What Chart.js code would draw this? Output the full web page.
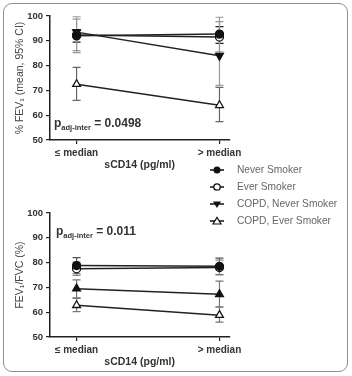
<!DOCTYPE html>
<html>
<head>
<meta charset="utf-8">
<script src="https://cdn.jsdelivr.net/npm/chart.js@4.4.1/dist/chart.umd.min.js"></script>
<style>
  body { margin: 0; width: 352px; height: 376px; background: #fff; position: relative; overflow: hidden;
         font-family: "Liberation Sans", Arial, sans-serif; }
  #frame { position: absolute; left: 3px; top: 3px; width: 343px; height: 367px;
           border: 1.5px solid #8f8f8f; border-radius: 9px; }
  .box { position: absolute; left: 0; width: 245px; height: 175px; }
  #legend { position: absolute; left: 209px; top: 161px; }
  #legend div { height: 17px; display: flex; align-items: center; font-size: 10.2px; color: #666; }
  #legend svg { margin-right: 12px; }
</style>
</head>
<body>
<div id="frame"></div>
<div class="box" style="top:0"><canvas id="fev1"></canvas></div>
<div class="box" style="top:197px"><canvas id="ratio"></canvas></div>
<div id="legend"></div>
<script>
// categories on the x axis
const categories = ['\u2264 median', '> median'];
const seriesNames = ['Never Smoker', 'Ever Smoker', 'COPD, Never Smoker', 'COPD, Ever Smoker'];

// % FEV1 (mean, 95% CI)
const fev1Never = [92.0, 92.7];
const fev1NeverCI = [[89.5, 94.5], [89.0, 95.7]];
const fev1Ever = [92.3, 91.5];
const fev1EverCI = [[86.0, 98.7], [85.5, 97.7]];
const fev1CopdNever = [93.5, 84.0];
const fev1CopdNeverCI = [[85.2, 99.7], [72.0, 99.5]];
const fev1CopdEver = [72.5, 64.0];
const fev1CopdEverCI = [[66.0, 79.3], [57.4, 71.2]];

// FEV1/FVC (%)
const ratioNever = [78.8, 78.5];
const ratioNeverCI = [[75.5, 82.0], [75.2, 81.8]];
const ratioEver = [77.5, 78.0];
const ratioEverCI = [[74.8, 80.2], [75.0, 81.0]];
const ratioCopdNever = [69.5, 67.2];
const ratioCopdNeverCI = [[65.8, 73.0], [62.2, 72.5]];
const ratioCopdEver = [62.8, 58.8];
const ratioCopdEverCI = [[60.2, 65.6], [56.0, 62.0]];

const yTicks = [50, 60, 70, 80, 90, 100];

const errorBars = {
  id: 'errorBars',
  beforeDatasetsDraw(chart) {
    const { ctx, scales: { x, y } } = chart;
    chart.data.datasets.forEach(ds => {
      ctx.save();
      ctx.strokeStyle = ds.ciColor;
      ctx.lineWidth = 1.2;
      ds.ci.forEach((r, i) => {
        const px = x.getPixelForValue(i);
        const lo = y.getPixelForValue(r[0]);
        const hi = y.getPixelForValue(r[1]);
        ctx.beginPath();
        ctx.moveTo(px, lo); ctx.lineTo(px, hi);
        ctx.moveTo(px - 4, lo); ctx.lineTo(px + 4, lo);
        ctx.moveTo(px - 4, hi); ctx.lineTo(px + 4, hi);
        ctx.stroke();
      });
      ctx.restore();
    });
  }
};

// p value note with subscript
const pNote = {
  id: 'pNote',
  afterDraw(chart, args, opts) {
    const ctx = chart.ctx;
    ctx.save();
    ctx.fillStyle = '#333';
    ctx.textBaseline = 'alphabetic';
    let x = opts.x;
    ctx.font = 'bold 12px "Liberation Sans", Arial';
    ctx.fillText('p', x, opts.y);
    x += ctx.measureText('p').width;
    ctx.font = 'bold 7.5px "Liberation Sans", Arial';
    ctx.fillText('adj-inter', x, opts.y + 3);
    x += ctx.measureText('adj-inter').width;
    ctx.font = 'bold 12px "Liberation Sans", Arial';
    ctx.fillText(' = ' + opts.text, x, opts.y);
    ctx.restore();
  }
};

function series(label, vals, ci, style, fill, rot, ciColor) {
  return {
    label,
    data: vals.map((v, i) => ({ x: i, y: v })),
    ci,
    ciColor,
    borderColor: '#222',
    borderWidth: 1.5,
    pointStyle: style,
    pointRotation: rot,
    pointRadius: style === 'circle' ? 4 : 4.5,
    pointBorderWidth: 1.3,
    pointBackgroundColor: fill,
    pointBorderColor: '#111',
    tension: 0,
    clip: false
  };
}

function makeChart(id, sets, title, note) {
  return new Chart(document.getElementById(id), {
    type: 'line',
    data: { datasets: sets },
    plugins: [errorBars, pNote],
    options: {
      responsive: true,
      maintainAspectRatio: false,
      animation: false,
      events: [],
      layout: { padding: { left: 10, top: 16, right: 13, bottom: 0 } },
      plugins: { legend: { display: false }, tooltip: { enabled: false }, pNote: note },
      scales: {
        x: {
          type: 'linear', min: -0.186, max: 1.069,
          afterBuildTicks: s => { s.ticks = categories.map((c, i) => ({ value: i })); },
          afterFit: s => { s.height = 35; },
          ticks: { callback: v => categories[v], color: '#333', padding: 3,
                   font: { family: '"Liberation Sans", Arial', size: 10, weight: 'bold' } },
          grid: { drawOnChartArea: false, tickLength: 4, color: '#222', lineWidth: 1.2 },
          border: { color: '#222', width: 1.5 },
          title: { display: true, text: 'sCD14 (pg/ml)', color: '#333', padding: { top: 4, bottom: 4 },
                   font: { family: '"Liberation Sans", Arial', size: 10.5, weight: 'bold' } }
        },
        y: {
          min: 50, max: 100,
          afterBuildTicks: s => { s.ticks = yTicks.map(v => ({ value: v })); },
          afterFit: s => { s.width = 40; },
          ticks: { color: '#333', padding: 3,
                   font: { family: '"Liberation Sans", Arial', size: 9.5, weight: 'bold' } },
          grid: { drawOnChartArea: false, tickLength: 4, color: '#222', lineWidth: 1.2 },
          border: { color: '#222', width: 1.5 },
          title: { display: true, text: title, color: '#444', padding: { top: 4, bottom: 4 },
                   font: { family: '"Liberation Sans", "DejaVu Sans", Arial', size: 10.5 } }
        }
      }
    }
  });
}

makeChart('fev1', [
  series(seriesNames[0], fev1Never, fev1NeverCI, 'circle', '#111', 0, '#222'),
  series(seriesNames[1], fev1Ever, fev1EverCI, 'circle', '#fff', 0, '#999'),
  series(seriesNames[2], fev1CopdNever, fev1CopdNeverCI, 'triangle', '#111', 180, '#999'),
  series(seriesNames[3], fev1CopdEver, fev1CopdEverCI, 'triangle', '#fff', 0, '#666')
], '% FEV\u2081 (mean, 95% CI)', { x: 54, y: 127, text: '0.0498' });

makeChart('ratio', [
  series(seriesNames[0], ratioNever, ratioNeverCI, 'circle', '#111', 0, '#555'),
  series(seriesNames[1], ratioEver, ratioEverCI, 'circle', '#fff', 0, '#888'),
  series(seriesNames[2], ratioCopdNever, ratioCopdNeverCI, 'triangle', '#111', 0, '#777'),
  series(seriesNames[3], ratioCopdEver, ratioCopdEverCI, 'triangle', '#fff', 0, '#777')
], 'FEV\u2081/FVC (%)', { x: 56, y: 38, text: '0.011' });

// shared legend
const legendMarks = [
  '<circle cx="8" cy="6" r="3.5" fill="#111"/>',
  '<circle cx="8" cy="6" r="3.2" fill="#fff" stroke="#111" stroke-width="1.3"/>',
  '<path d="M4 3.5 L12 3.5 L8 10 Z" fill="#111"/>',
  '<path d="M4 9 L12 9 L8 2.5 Z" fill="#fff" stroke="#111" stroke-width="1.2"/>'
];
document.getElementById('legend').innerHTML = seriesNames.map((n, i) =>
  '<div><svg width="16" height="12"><line x1="1" y1="6" x2="15" y2="6" stroke="#111" stroke-width="1.5"/>' +
  legendMarks[i] + '</svg>' + n + '</div>').join('');
</script>
</body>
</html>
